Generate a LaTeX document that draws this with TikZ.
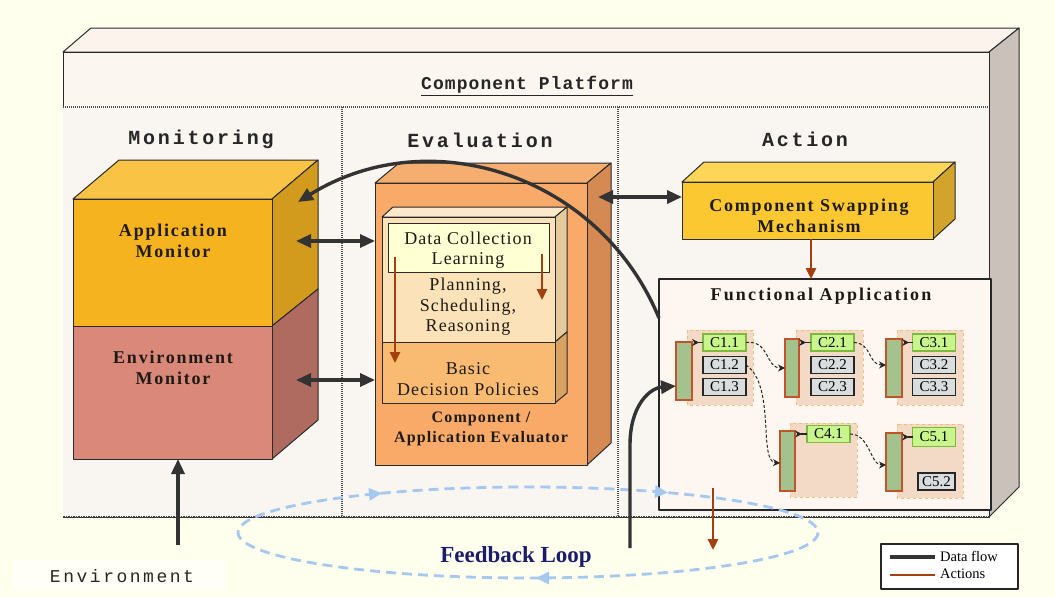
\documentclass[tikz,border=0pt]{standalone}
\usepackage{fontspec}
\setmainfont{Liberation Serif}
\newfontfamily\typefont{Liberation Mono}
\usetikzlibrary{arrows.meta}

\newcommand\fs[2]{\fontsize{#1}{#2}\selectfont}

\definecolor{paper}{HTML}{FFFFEE}
\definecolor{platefront}{HTML}{FCF6F0}
\definecolor{platetop}{HTML}{FCF3EC}
\definecolor{plateside}{HTML}{CAC1BB}
\definecolor{colfill}{HTML}{F9F5F1}
\definecolor{facedraw}{HTML}{2A2A2A}
\definecolor{appfront}{HTML}{F6B320}
\definecolor{apptop}{HTML}{F9C445}
\definecolor{appside}{HTML}{D39B1E}
\definecolor{envfront}{HTML}{D9887A}
\definecolor{envside}{HTML}{B06B60}
\definecolor{evalfront}{HTML}{F9AA68}
\definecolor{evaltop}{HTML}{F6AE70}
\definecolor{evalside}{HTML}{D48A52}
\definecolor{innerfront}{HTML}{FBE2B8}
\definecolor{innertop}{HTML}{FCE9CB}
\definecolor{innerside}{HTML}{E4C99C}
\definecolor{dclfill}{HTML}{FFFFD4}
\definecolor{basicfront}{HTML}{F9BA72}
\definecolor{basicside}{HTML}{D8A263}
\definecolor{csmfront}{HTML}{FBC832}
\definecolor{csmtop}{HTML}{FDD658}
\definecolor{csmside}{HTML}{D3A42C}
\definecolor{funcfill}{HTML}{FDF6F1}
\definecolor{groupfill}{HTML}{F3DAC6}
\definecolor{groupline}{HTML}{F3BE78}
\definecolor{bargreen}{HTML}{A3C28E}
\definecolor{barline}{HTML}{C2542A}
\definecolor{cgreen}{HTML}{C8F58C}
\definecolor{cgreenline}{HTML}{7DB93C}
\definecolor{cgray}{HTML}{D9DDDD}
\definecolor{flowdark}{HTML}{333333}
\definecolor{actbrown}{HTML}{A4400F}
\definecolor{loopblue}{HTML}{A5C8EE}
\definecolor{navy}{HTML}{1C1C6E}
\definecolor{labeltext}{HTML}{1E1A14}

\tikzset{
  face/.style={draw=facedraw, line width=1pt, line join=round},
  cubefront/.style={face, inner sep=0pt, outer sep=0pt, anchor=north west},
  divider/.style={draw=black!70, line width=1.3pt, dash pattern=on 1pt off 1pt},
  lbl/.style={align=center, inner sep=0pt, text=labeltext},
  boldlbl/.style={lbl, font=\fs{18}{21}\bfseries\addfontfeatures{LetterSpace=10}},
  plainlbl/.style={lbl, font=\fs{18}{20.5}\addfontfeatures{LetterSpace=6}},
  header/.style={inner sep=0pt, text=black!85,
    font=\typefont\fs{20}{22}\bfseries\addfontfeatures{LetterSpace=14}},
  bar/.style={draw=barline, fill=bargreen, line width=1.3pt, inner sep=0pt,
    outer sep=0pt, anchor=north west},
  cbox/.style={line width=1.2pt, minimum width=43pt, minimum height=17pt,
    inner sep=0pt, outer sep=0pt, font=\fs{15}{15}},
  cgreenbox/.style={cbox, draw=cgreenline, fill=cgreen},
  cgraybox/.style={cbox, draw=black!85, fill=cgray},
  groupbg/.style={fill=groupfill, draw=groupline, dashed, line width=0.9pt},
  link/.style={draw=black!85, line width=1pt, dash pattern=on 3pt off 2pt,
    -{Stealth[length=7pt,width=7pt]}},
  socket/.style={draw=black!85, line width=1.1pt,
    -{Stealth[length=7pt,width=7pt,reversed]}},
  dflow/.style={draw=flowdark, line width=3.4pt,
    >={Triangle[length=15pt,width=13pt]}, ->},
  act/.style={draw=actbrown, line width=2.6pt,
    -{Triangle[length=11pt,width=10pt]}},
  loopline/.style={draw=loopblue, line width=2.8pt, dash pattern=on 10pt off 6pt},
  looptip/.style={draw=loopblue, line width=2.8pt,
    -{Triangle[length=13pt,width=12pt]}},
}

\begin{document}
\begin{tikzpicture}[x=1pt,y=-1pt]
\useasboundingbox (0,0) rectangle (1055,597);
\fill[paper] (0,0) rectangle (1055,597);

% ---------- component platform (open box) ----------
\filldraw[face, fill=platetop] (63,52) -- (91,28) -- (1019,28) -- (989,52) -- cycle;
\filldraw[face, fill=plateside] (989,52) -- (1019,28) -- (1019,487) -- (989,517) -- cycle;
\node[cubefront, fill=platefront, minimum width=926pt, minimum height=465pt] (platform) at (63,52) {};
\fill[colfill] (63,107) rectangle (989,517);
\draw[divider] (63,107) -- (989,107);
\draw[divider] (342,107) -- (342,517);
\draw[divider] (618,107) -- (618,517);
\draw[draw=black!75, line width=1.8pt, dash pattern=on 1.5pt off 1pt] (63,517) -- (989,517);

\node[inner sep=0pt, text=black!85, font=\typefont\fs{18}{18}\bfseries\addfontfeatures{LetterSpace=6}]
  (platformtitle) at (527,86) {\underline{Component Platform}};

\node[header] (hmon) at (201,139) {Monitoring};
\node[header] (heval) at (480,140) {Evaluation};
\node[header] (hact) at (805,139) {Action};

% ---------- monitoring cube ----------
\filldraw[face, fill=apptop] (73,199) -- (119,160) -- (318,160) -- (272,199) -- cycle;
\filldraw[face, fill=appside] (272,199) -- (318,160) -- (318,289) -- (272,326) -- cycle;
\filldraw[face, fill=envside] (272,326) -- (318,289) -- (318,420) -- (272,459) -- cycle;
\node[cubefront, fill=appfront, minimum width=199pt, minimum height=127pt] (appmon) at (73,199) {};
\node[cubefront, fill=envfront, minimum width=199pt, minimum height=133pt] (envmon) at (73,326) {};
\node[boldlbl] (appmontext) at (173,241) {Application\\Monitor};
\node[boldlbl] (envmontext) at (173,368) {Environment\\Monitor};

% ---------- evaluation cube ----------
\filldraw[face, fill=evaltop] (375,183) -- (399,163) -- (611,163) -- (587,183) -- cycle;
\filldraw[face, fill=evalside] (587,183) -- (611,163) -- (611,443) -- (587,465) -- cycle;
\node[cubefront, fill=evalfront, minimum width=212pt, minimum height=282pt] (eval) at (375,183) {};

\filldraw[face, fill=innertop] (382,217) -- (393,207) -- (567,207) -- (555,217) -- cycle;
\filldraw[face, fill=innerside] (555,217) -- (567,207) -- (567,332) -- (555,342) -- cycle;
\filldraw[face, fill=basicside] (555,342) -- (567,332) -- (567,393) -- (555,403) -- cycle;
\node[cubefront, fill=innerfront, minimum width=173pt, minimum height=125pt] (planning) at (382,217) {};
\node[cubefront, fill=basicfront, minimum width=173pt, minimum height=61pt] (basic) at (382,342) {};
\node[cubefront, fill=dclfill, minimum width=161pt, minimum height=49pt] (dcl) at (388,223) {};

\node[plainlbl] (dcltext) at (468,250) {Data Collection\\Learning};
\node[plainlbl] (plantext) at (468,307) {Planning,\\Scheduling,\\Reasoning};
\node[plainlbl] (basictext) at (468,379) {Basic\\Decision Policies};
\node[lbl, font=\fs{16}{20}\bfseries\addfontfeatures{LetterSpace=7}] (evaltext) at (481,429)
  {Component /\\Application Evaluator};

\coordinate (learnL) at (395,257);
\coordinate (policyL) at (395,363);
\coordinate (learnR) at (542,254);
\coordinate (planR) at (542,300);
\draw[act] (learnL) -- (policyL);
\draw[act] (learnR) -- (planR);

% ---------- action column ----------
\filldraw[face, fill=csmtop] (682,182) -- (704,162) -- (955,162) -- (933,182) -- cycle;
\filldraw[face, fill=csmside] (933,182) -- (955,162) -- (955,219) -- (933,239) -- cycle;
\node[cubefront, fill=csmfront, minimum width=251pt, minimum height=57pt] (csm) at (682,182) {};
\node[boldlbl] (csmtext) at (809,216) {Component Swapping\\Mechanism};

\node[cubefront, draw=black!85, line width=1.2pt, fill=funcfill, minimum width=332pt, minimum height=231pt] (func) at (659,279) {};
\node[lbl, font=\fs{18}{20}\bfseries\addfontfeatures{LetterSpace=12}] (functext) at (821,296) {Functional Application};

\draw[act] (csm.south -| 811,0) -- (func.north -| 811,0);

% component groups
\filldraw[groupbg] (687,330) rectangle (753,405);
\filldraw[groupbg] (796,330) rectangle (863,405);
\filldraw[groupbg] (897,330) rectangle (963,405);
\filldraw[groupbg] (790,423) rectangle (857,497);
\filldraw[groupbg] (897,424) rectangle (963,498);

\node[bar, minimum width=16pt, minimum height=58pt] (bar1) at (676,342) {};
\node[bar, minimum width=14pt, minimum height=58pt] (bar2) at (785,339) {};
\node[bar, minimum width=16pt, minimum height=58pt] (bar3) at (886,339) {};
\node[bar, minimum width=15pt, minimum height=60pt] (bar4) at (780,431) {};
\node[bar, minimum width=16pt, minimum height=58pt] (bar5) at (886,433) {};

\node[cgreenbox] (c11) at (724.5,342.5) {C1.1};
\node[cgraybox]  (c12) at (724.5,365) {C1.2};
\node[cgraybox]  (c13) at (724.5,387) {C1.3};
\node[cgreenbox] (c21) at (832.5,342.5) {C2.1};
\node[cgraybox]  (c22) at (832.5,365) {C2.2};
\node[cgraybox]  (c23) at (832.5,387) {C2.3};
\node[cgreenbox] (c31) at (934,342.5) {C3.1};
\node[cgraybox]  (c32) at (934,365) {C3.2};
\node[cgraybox]  (c33) at (934,387) {C3.3};
\node[cgreenbox] (c41) at (828.5,434) {C4.1};
\node[cgreenbox, minimum height=19pt] (c51) at (934,437) {C5.1};
\node[cgraybox, minimum width=37pt] (c52) at (936.5,481.5) {C5.2};

\draw[socket] (c11.west) -- (bar1.east |- c11.west);
\draw[socket] (c21.west) -- (bar2.east |- c21.west);
\draw[socket] (c31.west) -- (bar3.east |- c31.west);
\draw[socket] (c41.west) -- (bar4.east |- c41.west);
\draw[socket] (c51.west) -- (bar5.east |- c51.west);

\draw[link] (c11.east) .. controls (770,340) and (765,368) .. (bar2.west |- 0,368);
\draw[link] (c21.east) .. controls (872,343) and (868,365) .. (bar3.west |- 0,365);
\draw[link] (c12.east) .. controls (776,385) and (758,462) .. (bar4.west |- 0,463);
\draw[link] (c41.east) .. controls (870,434) and (870,465) .. (bar5.west |- 0,465);

% ---------- feedback loop ----------
\draw[loopline] (528,532.5) ellipse [x radius=290, y radius=45.5];
\draw[looptip] (368,494.5) -- (382,493.2);
\draw[looptip] (654,491.5) -- (668,492.7);
\draw[looptip] (550,578) -- (536,578);
\node[inner sep=0pt, text=navy, font=\fs{23}{23}\bfseries] (loop) at (516,557) {Feedback Loop};

% ---------- data flow connectors ----------
\coordinate (appin) at (298,202);
\coordinate (appside) at (296,241);
\coordinate (envside) at (296,380);
\coordinate (evalside) at (598,197);
\coordinate (envsrc) at (178,545);
\coordinate (sense) at (630,548);

\draw[dflow] ([yshift=-39pt]func.north west) .. controls (600,175) and (430,120) .. (appin);
\draw[dflow, <->] (appside) -- (eval.west |- appside);
\draw[dflow, <->] (envside) -- (eval.west |- envside);
\draw[dflow, <->] (evalside) -- (csm.west |- evalside);
\draw[dflow] (envsrc) -- (envmon.south -| envsrc);
\draw[dflow] (sense) -- (630,445) .. controls (630,405) and (650,388) .. (bar1.west |- 0,386);

\coordinate (effectA) at (713,488);
\coordinate (effectB) at (713,550);
\draw[act] (effectA) -- (effectB);

% ---------- environment label ----------
\fill[white!55!paper] (13,560) rectangle (225,590);
\node[inner sep=0pt, text=black!85, font=\typefont\fs{18}{18}\addfontfeatures{LetterSpace=14}] (environment) at (122,576) {Environment};

% ---------- legend ----------
\node[cubefront, draw=black!85, line width=1.2pt, fill=white, minimum width=137pt, minimum height=45pt] (legend) at (881,544) {};
\draw[flowdark, line width=3.4pt] (890,557) -- (935,557);
\draw[actbrown, line width=2.6pt] (890,575) -- (935,575);
\node[anchor=west, inner sep=0pt, font=\fs{14.5}{15}] (lgflow) at (940,556) {Data flow};
\node[anchor=west, inner sep=0pt, font=\fs{14.5}{15}] (lgact) at (940,574) {Actions};
\end{tikzpicture}
\end{document}
